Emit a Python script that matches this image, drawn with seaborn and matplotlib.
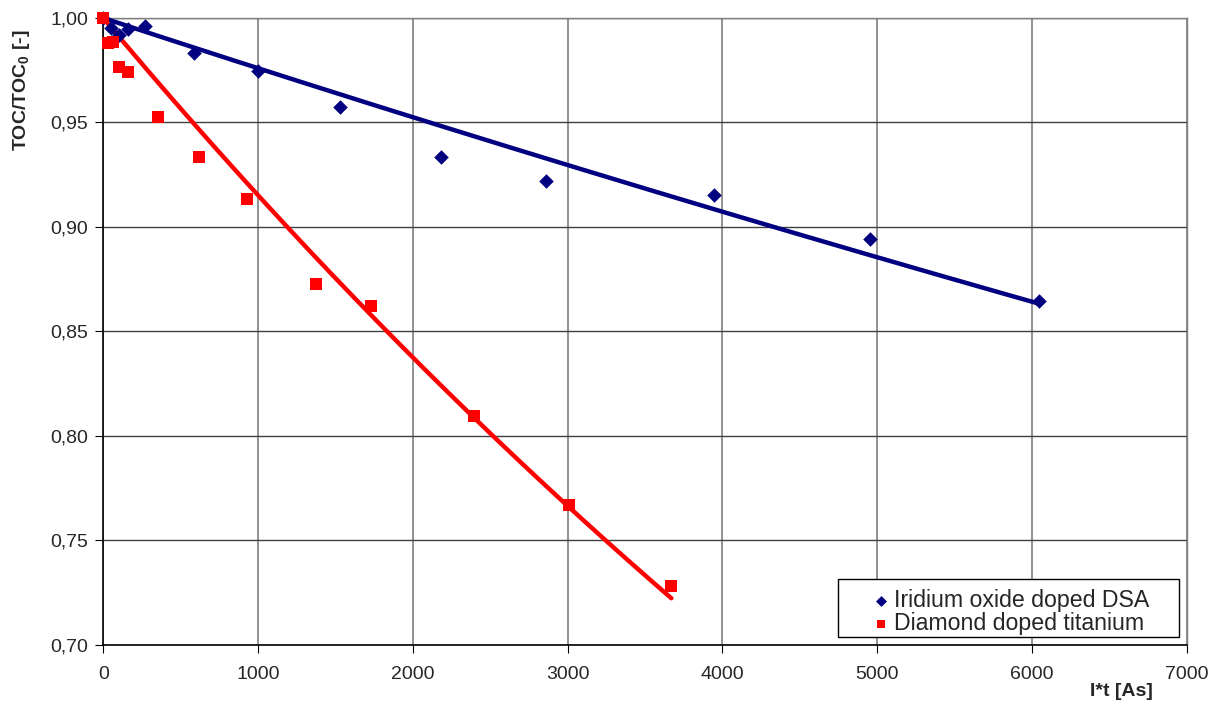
import matplotlib
matplotlib.use('Agg')
import matplotlib.pyplot as plt
import matplotlib.ticker as mticker
from matplotlib.patches import Rectangle
import numpy as np
import pandas as pd
import seaborn as sns

# Dados
dsa_it = [0, 48, 101, 162, 269, 586, 1000, 1531, 2184, 2857, 3945, 4954, 6042]
dsa_toc = [1.000, 0.9954, 0.9918, 0.9946, 0.9963, 0.9831, 0.9748, 0.9575, 0.9335, 0.9219, 0.9155, 0.8940, 0.8645]

bdd_it = [0, 28, 65, 101, 162, 356, 616, 927, 1375, 1730, 2394, 3008, 3670]
bdd_toc = [1.000, 0.9879, 0.9887, 0.9767, 0.9740, 0.9524, 0.9335, 0.9133, 0.8725, 0.8620, 0.8097, 0.7671, 0.7283]

label_dsa = 'Iridium oxide doped DSA'
label_bdd = 'Diamond doped titanium'

df_dsa = pd.DataFrame({'it': dsa_it, 'toc': dsa_toc})
df_bdd = pd.DataFrame({'it': bdd_it, 'toc': bdd_toc})


# Linha de tendencia exponencial com intercepto = 1 - exponential trend line, intercept fixed at 1
def exp_trend(df, n=200):
    x = df['it'].to_numpy(float)
    y = df['toc'].to_numpy(float)
    b = np.sum(x * np.log(y)) / np.sum(x ** 2)
    xs = np.linspace(x.min(), x.max(), n)
    return pd.DataFrame({'it': xs, 'toc': np.exp(b * xs)})


trend_dsa = exp_trend(df_dsa)
trend_bdd = exp_trend(df_bdd)

sns.set_style('white')
plt.rcParams['font.family'] = ['Liberation Sans', 'DejaVu Sans']
plt.rcParams['mathtext.fontset'] = 'custom'
plt.rcParams['mathtext.rm'] = 'Liberation Sans'
plt.rcParams['mathtext.bf'] = 'Liberation Sans:bold'

fig, ax = plt.subplots(figsize=(12.21, 7.07), dpi=100)
fig.subplots_adjust(left=0.0846, right=0.972, top=0.9745, bottom=0.0881)

navy = '#000080'
red = '#FF0000'

sns.lineplot(data=trend_dsa, x='it', y='toc', color=navy, lw=3.2, zorder=3, ax=ax)
sns.lineplot(data=trend_bdd, x='it', y='toc', color=red, lw=3.2, zorder=3, ax=ax)

# Pontos - points
sns.scatterplot(data=df_dsa, x='it', y='toc', marker='D', color=navy, s=55,
                edgecolor=navy, linewidth=0, label=label_dsa, zorder=4,
                clip_on=False, ax=ax)
sns.scatterplot(data=df_bdd, x='it', y='toc', marker='s', color=red, s=70,
                edgecolor=red, linewidth=0, label=label_bdd, zorder=5,
                clip_on=False, ax=ax)

ax.set_xlim(0, 7000)
ax.set_ylim(0.70, 1.00)
ax.set_xticks(np.arange(0, 7001, 1000))
ax.set_yticks(np.arange(0.70, 1.001, 0.05))
ax.yaxis.set_major_formatter(mticker.FuncFormatter(lambda v, p: f'{v:.2f}'.replace('.', ',')))
ax.xaxis.grid(True, color='#7f7f7f', lw=1.2)
ax.yaxis.grid(True, color='#404040', lw=1.0)
ax.set_axisbelow(True)
for side in ['top', 'right']:
    ax.spines[side].set_color('#808080')
    ax.spines[side].set_linewidth(1.0)
for side in ['left', 'bottom']:
    ax.spines[side].set_color('black')
    ax.spines[side].set_linewidth(1.2)
ax.tick_params(axis='both', labelsize=14, length=6, direction='out', color='black',
               bottom=True, left=True)
ax.tick_params(axis='x', pad=9)
ax.tick_params(axis='y', pad=5)

ax.set_xlabel('I*t [As]', fontsize=14, fontweight='bold')
ax.xaxis.set_label_coords(0.940, -0.0614)
ax.set_ylabel(r'TOC/TOC$_\mathbf{0}$ [-]', fontsize=14, fontweight='bold')
ax.yaxis.set_label_coords(-0.0655, 0.885)

# Caixa da legenda - legend box
x0, x1, y0, y1 = 0.678, 0.9926, 0.0123, 0.1049
ax.add_patch(Rectangle((x0, y0), x1 - x0, y1 - y0, transform=ax.transAxes,
                       facecolor='white', edgecolor='black', lw=1.0, zorder=6))
leg = ax.legend(loc='center', bbox_to_anchor=((x0 + x1) / 2 + 0.002, (y0 + y1) / 2 - 0.006),
                fontsize=16.7, frameon=False, handletextpad=0.15, borderpad=0.1,
                labelspacing=0.0, markerscale=0.75, handlelength=0.8)
leg.set_zorder(7)

plt.savefig('out.png', dpi=100)
